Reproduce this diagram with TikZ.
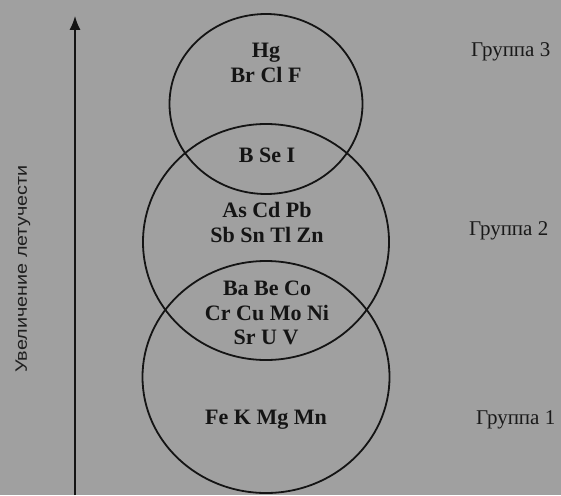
\documentclass[tikz,border=0pt]{standalone}
\usepackage{fontspec}
\setmainfont{Liberation Serif}
\newfontfamily\labelsans{Liberation Sans}
\usetikzlibrary{shapes.geometric,arrows.meta}
\definecolor{paper}{RGB}{160,160,160}
\tikzset{
  ring/.style={draw=black!92, line width=1.8pt, ellipse, inner sep=0pt},
  elem/.style={font=\fontsize{22}{24}\selectfont\bfseries, text=black!92, align=center, inner sep=0pt},
  grp/.style={font=\fontsize{21}{24}\selectfont, text=black!90, anchor=west, inner sep=0pt},
}
\begin{document}
\begin{tikzpicture}[x=1pt,y=-1pt]
\fill[paper] (0,0) rectangle (561,495);
\useasboundingbox (0,0) rectangle (561,495);
% axis
\coordinate (ax0) at (75,495);
\coordinate (ax1) at (75,16);
\draw[line width=1.4pt, black!92, -{Latex[length=14pt,width=11pt]}] (ax0) -- (ax1);
\node[rotate=90, font=\labelsans\fontsize{16.5}{18}\selectfont, text=black!88, inner sep=0pt] (axl) at (23,269) {\scalebox{1.2}[1]{Увеличение летучести}};
% circles
\node[ring, minimum width=193pt, minimum height=180pt] (g3) at (266,104) {};
\node[ring, minimum width=246pt, minimum height=236pt] (g2) at (266,242) {};
\node[ring, minimum width=247pt, minimum height=232pt] (g1) at (266,377) {};
% element texts
\node[elem] (t1) at (266,53) {Hg};
\node[elem] (t2) at (266,75) {Br Cl F};
\node[elem] (t3) at (267,155) {B Se I};
\node[elem] (t4) at (267,210) {As Cd Pb};
\node[elem] (t5) at (267,235) {Sb Sn Tl Zn};
\node[elem] (t6) at (267,288) {Ba Be Co};
\node[elem] (t7) at (267,313) {Cr Cu Mo Ni};
\node[elem] (t8) at (266,337) {Sr U V};
\node[elem] (t9) at (266,420) {Fe K Mg Mn};
% group labels
\node[grp] (l3) at (471,52) {Группа 3};
\node[grp] (l2) at (469,231) {Группа 2};
\node[grp] (l1) at (476,420) {Группа 1};
\end{tikzpicture}
\end{document}
